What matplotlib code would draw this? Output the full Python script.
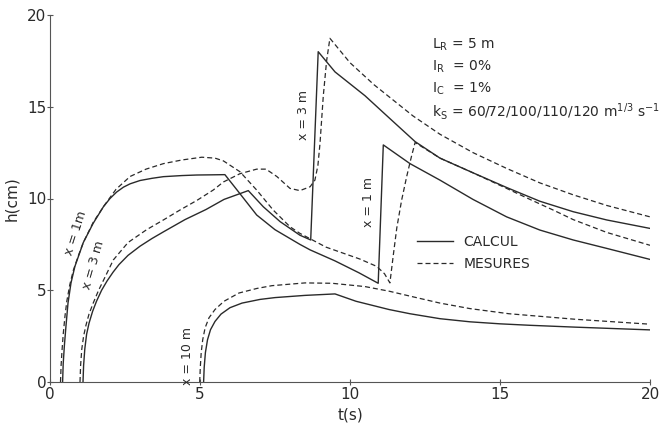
import matplotlib
matplotlib.use("Agg")
import matplotlib.pyplot as plt
from matplotlib.lines import Line2D

# ---------------- data ----------------
# x = 1 m, calculated
calc_x1_t = [0.42, 0.44, 0.48, 0.53, 0.6, 0.7, 0.83, 1.11, 1.44, 1.78, 2.0, 2.22, 2.45, 2.67, 3.0, 3.4,
             3.78, 4.4, 4.89, 5.4, 5.83,
             6.28, 6.89, 7.5, 8.33, 8.67, 9.5, 10.3, 10.94,
             11.11, 12.0, 13.0, 14.1, 15.22, 16.33, 17.44, 18.56, 20.0]
calc_x1_h = [0.0, 1.0, 2.0, 3.0, 4.3, 5.4, 6.3, 7.6, 8.65, 9.55, 10.0, 10.35, 10.62, 10.8, 10.98, 11.1,
             11.19, 11.25, 11.28, 11.29, 11.3,
             10.37, 9.1, 8.3, 7.5, 7.2, 6.6, 5.95, 5.38,
             12.92, 11.9, 11.0, 9.95, 9.0, 8.28, 7.74, 7.28, 6.68]

# x = 3 m, calculated
calc_x3_t = [1.1, 1.12, 1.16, 1.22, 1.3, 1.42, 1.55, 1.72, 1.9, 2.1, 2.3, 2.6, 3.0, 3.4, 3.8, 4.5, 5.2,
             5.8, 6.61,
             7.11, 7.67, 8.33, 8.69,
             8.94, 9.5, 10.5, 11.3, 12.17, 13.0, 14.1, 15.22, 16.33, 17.44, 18.56, 20.0]
calc_x3_h = [0.0, 0.9, 1.8, 2.6, 3.2, 3.85, 4.4, 5.0, 5.5, 5.98, 6.4, 6.9, 7.4, 7.82, 8.2, 8.85, 9.4,
             9.95, 10.43,
             9.55, 8.74, 8.0, 7.74,
             18.0, 16.9, 15.6, 14.4, 13.1, 12.2, 11.4, 10.6, 9.85, 9.28, 8.83, 8.37]

# x = 10 m, calculated
calc_x10_t = [5.12, 5.14, 5.18, 5.25, 5.35, 5.5, 5.7, 6.0, 6.4, 7.0, 7.5, 8.5, 9.5,
              10.2, 11.3, 12.0, 13.0, 14.0, 15.0, 16.0, 17.5, 20.0]
calc_x10_h = [0.0, 0.8, 1.6, 2.3, 2.85, 3.3, 3.7, 4.05, 4.3, 4.5, 4.6, 4.72, 4.8,
              4.4, 3.95, 3.72, 3.45, 3.28, 3.17, 3.09, 2.99, 2.84]

# x = 1 m, measured
mes_x1_t = [0.35, 0.37, 0.4, 0.44, 0.5, 0.56, 0.66, 0.78, 0.95, 1.11, 1.44, 1.8, 2.2, 2.67, 3.2, 3.78,
            4.4, 5.06, 5.5, 5.78,
            6.33, 6.89, 7.44, 8.0, 8.33, 9.2, 10.33, 10.89, 11.15, 11.33,
            11.45, 11.56, 11.72, 11.89, 12.05, 12.17,
            13.0, 14.1, 15.22, 16.0, 16.8, 17.44, 18.56, 20.0]
mes_x1_h = [0.0, 0.9, 1.7, 2.6, 3.6, 4.4, 5.3, 6.1, 6.9, 7.6, 8.7, 9.6, 10.5, 11.2, 11.6, 11.9,
            12.1, 12.25, 12.2, 12.05,
            11.46, 10.46, 9.37, 8.46, 8.1, 7.35, 6.7, 6.3, 5.9, 5.4,
            7.0, 8.4, 9.9, 11.2, 12.3, 13.05,
            12.2, 11.4, 10.55, 9.95, 9.35, 8.85, 8.15, 7.45]

# x = 3 m, measured
mes_x3_t = [1.0, 1.02, 1.06, 1.12, 1.2, 1.3, 1.44, 1.62, 1.8, 2.11, 2.6, 3.22, 3.8, 4.33, 4.9, 5.44,
            5.78, 6.33, 6.89, 7.2, 7.56,
            8.0, 8.33, 8.67, 8.83, 8.93, 9.0, 9.11, 9.22, 9.33,
            10.0, 10.8, 12.1, 13.0, 14.1, 15.22, 16.33, 17.44, 18.56, 20.0]
mes_x3_h = [0.0, 0.9, 1.8, 2.5, 3.1, 3.7, 4.3, 5.0, 5.6, 6.65, 7.6, 8.3, 8.85, 9.37, 9.9, 10.46,
            10.9, 11.35, 11.6, 11.6, 11.2,
            10.55, 10.43, 10.64, 11.0, 11.8, 13.0, 15.6, 17.5, 18.73,
            17.4, 16.2, 14.5, 13.5, 12.5, 11.64, 10.85, 10.2, 9.62, 9.0]

# x = 10 m, measured
mes_x10_t = [4.99, 5.01, 5.04, 5.09, 5.17, 5.3, 5.5, 5.8, 6.3, 6.9, 7.4, 8.5, 9.4, 10.5, 11.3,
             12.0, 13.0, 14.0, 15.3, 17.5, 20.0]
mes_x10_h = [0.0, 0.8, 1.6, 2.3, 2.95, 3.5, 3.95, 4.4, 4.85, 5.1, 5.25, 5.4, 5.38, 5.2, 4.95,
             4.68, 4.3, 4.0, 3.72, 3.42, 3.15]

x_ticks = [0, 5, 10, 15, 20]
y_ticks = [0, 5, 10, 15, 20]

legend_labels = ["CALCUL", "MESURES"]
param_lines = [r"$L_R$ = 5 m", r"$I_R$  = 0%", r"$I_C$  = 1%",
               r"$k_S$ = 60/72/100/110/120 $m^{1/3}\ s^{-1}$"]

# ---------------- style ----------------
plt.rcParams['font.family'] = ['DejaVu Sans']
plt.rcParams['mathtext.default'] = 'regular'
ink = '#2a2a2a'
lw = 1.0
dash = (4.0, 2.4)

fig = plt.figure(figsize=(6.66, 4.30), dpi=100)
ax = fig.add_axes([50/666, 48/430, 600/666, 367/430])
ax.set_xlim(0, 20)
ax.set_ylim(0, 20)

for t, h in [(calc_x1_t, calc_x1_h), (calc_x3_t, calc_x3_h), (calc_x10_t, calc_x10_h)]:
    ax.plot(t, h, color=ink, lw=lw, solid_joinstyle='round')
for t, h in [(mes_x1_t, mes_x1_h), (mes_x3_t, mes_x3_h), (mes_x10_t, mes_x10_h)]:
    ax.plot(t, h, color=ink, lw=lw * 0.9, linestyle=(0, dash))

for s in ['top', 'right']:
    ax.spines[s].set_visible(False)
for s in ['left', 'bottom']:
    ax.spines[s].set_color('#555555')
    ax.spines[s].set_linewidth(0.8)

ax.set_xticks(x_ticks)
ax.set_yticks(y_ticks)
ax.tick_params(direction='inout', length=5, width=0.8, color='#555555',
               labelsize=11, labelcolor=ink)
ax.tick_params(axis='y', pad=0)
ax.tick_params(axis='x', pad=1)
ax.set_xlabel('t(s)', fontsize=11, color=ink, labelpad=4)
ax.set_ylabel('h(cm)', fontsize=11, color=ink, labelpad=6)

# curve labels
ax.text(0.85, 8.1, 'x = 1m', rotation=72, fontsize=9, color=ink, ha='center', va='center')
ax.text(1.45, 6.4, 'x = 3 m', rotation=74, fontsize=9, color=ink, ha='center', va='center')
ax.text(4.57, 1.4, 'x = 10 m', rotation=90, fontsize=9, color=ink, ha='center', va='center')
ax.text(8.45, 14.55, 'x = 3 m', rotation=90, fontsize=9, color=ink, ha='center', va='center')
ax.text(10.63, 9.8, 'x = 1 m', rotation=90, fontsize=9, color=ink, ha='center', va='center')

# legend
handles = [Line2D([], [], color=ink, lw=lw),
           Line2D([], [], color=ink, lw=lw * 0.9, linestyle=(0, dash))]
leg = ax.legend(handles, legend_labels, loc='upper left', bbox_to_anchor=(0.603, 0.415),
                frameon=False, fontsize=10, handlelength=2.6, handletextpad=0.7,
                labelspacing=0.55, borderaxespad=0)
for txt in leg.get_texts():
    txt.set_color(ink)

# parameter block
for i, line in enumerate(param_lines):
    ax.text(12.75, 18.4 - i * 1.22, line, fontsize=10, color=ink, ha='left', va='center')

fig.savefig('out.png', dpi=100, facecolor='white')
